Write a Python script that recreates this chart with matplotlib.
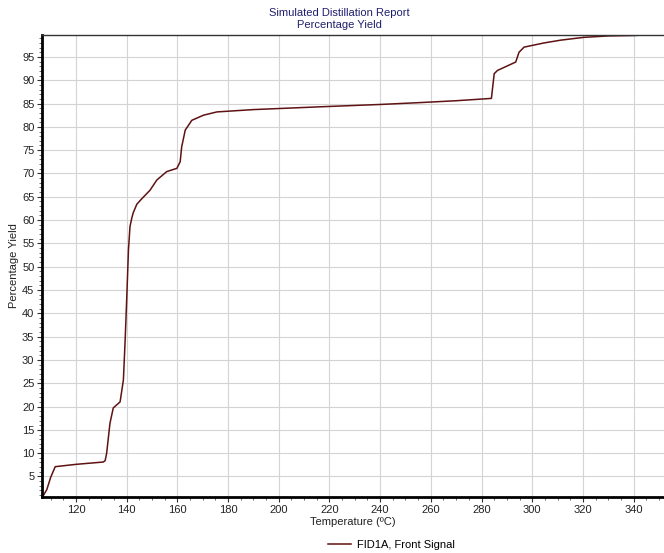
import matplotlib
matplotlib.use("Agg")
import matplotlib.pyplot as plt
from matplotlib.ticker import MultipleLocator

# Data
temperature = [106.6, 107.2, 108.5, 110.0, 111.8, 120.0, 130.8, 131.5, 132.1, 133.4, 134.7,
               137.4, 138.7, 139.4, 140.0, 140.7, 141.3, 142.0, 142.6, 144.0, 146.0,
               149.2, 151.9, 155.8, 159.8, 161.1, 161.7, 163.1, 165.7, 170.3, 175.6,
               190.0, 216.4, 240.0, 255.7, 270.0, 283.9, 285.0, 286.3, 293.5, 294.8,
               296.8, 304.7, 311.3, 320.4, 330.0, 340.0, 345.0]
yield_pct = [0.6, 1.0, 2.2, 4.8, 7.1, 7.6, 8.1, 8.4, 10.0, 16.4, 19.7,
             21.0, 25.7, 34.3, 42.9, 53.6, 58.6, 60.4, 61.6, 63.4, 64.6,
             66.4, 68.6, 70.4, 71.1, 72.5, 75.7, 79.3, 81.4, 82.5, 83.2,
             83.7, 84.3, 84.8, 85.2, 85.6, 86.1, 91.4, 92.1, 93.9, 96.0,
             97.1, 98.0, 98.6, 99.2, 99.5, 99.6, 99.7]

x_ticks = [120, 140, 160, 180, 200, 220, 240, 260, 280, 300, 320, 340]
y_ticks = [5, 10, 15, 20, 25, 30, 35, 40, 45, 50, 55, 60, 65, 70, 75, 80, 85, 90, 95]

title_lines = ["Simulated Distillation Report", "Percentage Yield"]
x_label = "Temperature (ºC)"
y_label = "Percentage Yield"
series_label = "FID1A, Front Signal"

plt.rcParams['font.family'] = ['Liberation Sans', 'DejaVu Sans']

fig = plt.figure(figsize=(6.64, 5.53), dpi=100)
ax = fig.add_axes([0.0633, 0.1013, 0.9367, 0.8354])

line, = ax.plot(temperature, yield_pct, color='#5e1212', lw=1.1, label=series_label)

ax.set_xlim(106.6, 352)
ax.set_ylim(0.6, 99.7)
ax.set_xticks(x_ticks)
ax.set_yticks(y_ticks)
ax.xaxis.set_minor_locator(MultipleLocator(5))
ax.yaxis.set_minor_locator(MultipleLocator(1))
ax.tick_params(axis='both', which='major', labelsize=8, length=3.5, width=0.8,
               color='#333333', labelcolor='#222222', pad=2)
ax.tick_params(axis='both', which='minor', length=2, width=0.6, color='#555555')

ax.grid(True, which='major', color='#d4d4d4', lw=0.8)
ax.set_axisbelow(True)

for s in ['left', 'bottom']:
    ax.spines[s].set_linewidth(2.0)
    ax.spines[s].set_color('black')
ax.spines['top'].set_linewidth(1.0)
ax.spines['top'].set_color('#333333')
ax.spines['right'].set_visible(False)

ax.set_xlabel(x_label, fontsize=8, color='#222222', labelpad=2)
ax.set_ylabel(y_label, fontsize=8, color='#222222', labelpad=2)

fig.text(0.511, 0.976, title_lines[0], ha='center', va='center', fontsize=8, color='#1f1f6e')
fig.text(0.511, 0.954, title_lines[1], ha='center', va='center', fontsize=8, color='#1f1f6e')

fig.legend(handles=[line], loc='center', bbox_to_anchor=(0.59, 0.015), frameon=False,
           fontsize=8, handlelength=2.0, handletextpad=0.6)

fig.savefig("out.png", dpi=100)
